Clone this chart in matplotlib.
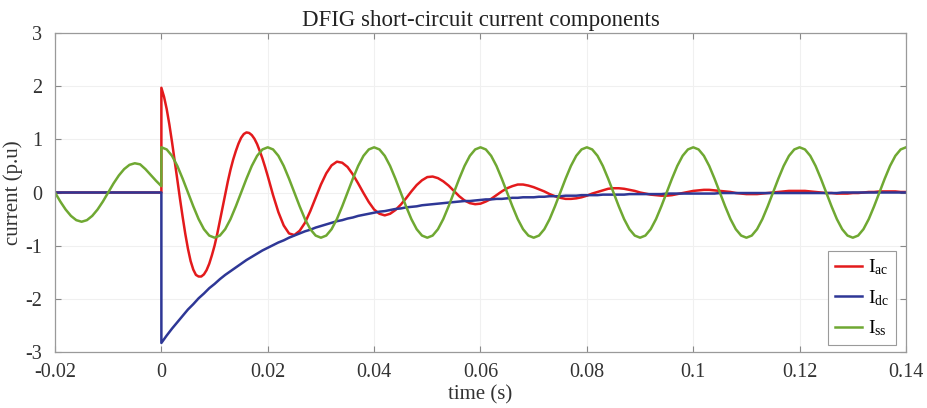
import numpy as np
import matplotlib
matplotlib.use("Agg")
import matplotlib.pyplot as plt

plt.rcParams['font.family'] = ['Liberation Serif', 'DejaVu Serif']
plt.rcParams['mathtext.fontset'] = 'custom'
plt.rcParams['mathtext.rm'] = 'Liberation Serif'
plt.rcParams['mathtext.it'] = 'Liberation Serif:italic'

# ---- data ----
t_pre = np.round(np.arange(-0.020, 0.0005, 0.001), 4)        # pre-fault sample times (s)
t_post = np.round(np.arange(0.000, 0.1405, 0.001), 4)        # post-fault sample times (s)
t_iac_post = np.round(np.concatenate([np.arange(0.0, 0.02025, 0.0005),
                                      np.arange(0.021, 0.1405, 0.001)]), 4)

iac_pre = [0.00] * 21
idc_pre = [0.00] * 21
iss_pre = [0.00, -0.17, -0.32, -0.44, -0.52, -0.55, -0.52, -0.44, -0.32, -0.17,
           0.00, 0.17, 0.32, 0.44, 0.52, 0.55, 0.53, 0.44, 0.33, 0.22, 0.12]

iac_post = [1.97, 1.80, 1.57, 1.28, 0.95, 0.60, 0.24, -0.12, -0.46, -0.78,
            -1.06, -1.29, -1.45, -1.55, -1.58, -1.58, -1.54, -1.46, -1.34, -1.18,
            -1.00, -0.78, -0.53, -0.28, -0.03, 0.21, 0.43, 0.62, 0.78, 0.92,
            1.03, 1.10, 1.13, 1.12, 1.08, 1.01, 0.91, 0.78, 0.64, 0.48,
            0.31,
            -0.05, -0.37, -0.62, -0.77, -0.80, -0.72, -0.57, -0.35, -0.10,
            0.15, 0.36, 0.51, 0.58, 0.56, 0.48, 0.34, 0.17, -0.01, -0.18,
            -0.32, -0.40, -0.43, -0.40, -0.33, -0.23, -0.11, 0.02, 0.14, 0.23,
            0.29, 0.30, 0.27, 0.21, 0.13, 0.03, -0.07, -0.15, -0.20, -0.22,
            -0.21, -0.17, -0.12, -0.05, 0.02, 0.08, 0.12, 0.15, 0.15, 0.13,
            0.10, 0.06, 0.02, -0.03, -0.07, -0.10, -0.12, -0.12, -0.11, -0.09,
            -0.06, -0.02, 0.01, 0.04, 0.07, 0.08, 0.08, 0.07, 0.05, 0.03,
            0.00, -0.02, -0.04, -0.05, -0.06, -0.06, -0.05, -0.03, -0.01, 0.01,
            0.03, 0.04, 0.05, 0.05, 0.04, 0.03, 0.02, 0.01, -0.01, -0.02,
            -0.03, -0.03, -0.03, -0.02, -0.01, 0.00, 0.01, 0.02, 0.03, 0.03,
            0.03, 0.03, 0.02, 0.01, 0.00, -0.01, -0.01, -0.02, -0.02, -0.02,
            -0.01, -0.01, 0.00, 0.01, 0.01, 0.02, 0.02, 0.02, 0.02, 0.01,
            0.01]

idc_post = [-2.83, -2.69, -2.56, -2.44, -2.32, -2.20, -2.10, -1.99, -1.90, -1.80,
            -1.72, -1.63, -1.55, -1.48, -1.41, -1.34, -1.27, -1.21, -1.15, -1.09,
            -1.04, -0.99, -0.94, -0.90, -0.85, -0.81, -0.77, -0.73, -0.70, -0.66,
            -0.63, -0.60, -0.57, -0.54, -0.52, -0.49, -0.47, -0.44, -0.42, -0.40,
            -0.38, -0.36, -0.35, -0.33, -0.31, -0.30, -0.28, -0.27, -0.26, -0.24,
            -0.23, -0.22, -0.21, -0.20, -0.19, -0.18, -0.17, -0.16, -0.16, -0.15,
            -0.14, -0.13, -0.13, -0.12, -0.12, -0.11, -0.10, -0.10, -0.09, -0.09,
            -0.09, -0.08, -0.08, -0.07, -0.07, -0.07, -0.06, -0.06, -0.06, -0.05,
            -0.05, -0.05, -0.05, -0.04, -0.04, -0.04, -0.04, -0.04, -0.03, -0.03,
            -0.03, -0.03, -0.03, -0.03, -0.03, -0.02, -0.02, -0.02, -0.02, -0.02,
            -0.02, -0.02, -0.02, -0.02, -0.02, -0.01, -0.01, -0.01, -0.01, -0.01,
            -0.01, -0.01, -0.01, -0.01, -0.01, -0.01, -0.01, -0.01, -0.01, -0.01,
            -0.01, -0.01, -0.01, -0.01, -0.01, -0.01, -0.01, -0.01, 0.00, 0.00,
            0.00, 0.00, 0.00, 0.00, 0.00, 0.00, 0.00, 0.00, 0.00, 0.00,
            0.00]

iss_post = [0.85, 0.81, 0.69, 0.50, 0.26, 0.00, -0.26, -0.50, -0.69, -0.81,
            -0.85, -0.81, -0.69, -0.50, -0.26, 0.00, 0.26, 0.50, 0.69, 0.81,
            0.85, 0.81, 0.69, 0.50, 0.26, 0.00, -0.26, -0.50, -0.69, -0.81,
            -0.85, -0.81, -0.69, -0.50, -0.26, 0.00, 0.26, 0.50, 0.69, 0.81,
            0.85, 0.81, 0.69, 0.50, 0.26, 0.00, -0.26, -0.50, -0.69, -0.81,
            -0.85, -0.81, -0.69, -0.50, -0.26, 0.00, 0.26, 0.50, 0.69, 0.81,
            0.85, 0.81, 0.69, 0.50, 0.26, 0.00, -0.26, -0.50, -0.69, -0.81,
            -0.85, -0.81, -0.69, -0.50, -0.26, 0.00, 0.26, 0.50, 0.69, 0.81,
            0.85, 0.81, 0.69, 0.50, 0.26, 0.00, -0.26, -0.50, -0.69, -0.81,
            -0.85, -0.81, -0.69, -0.50, -0.26, 0.00, 0.26, 0.50, 0.69, 0.81,
            0.85, 0.81, 0.69, 0.50, 0.26, 0.00, -0.26, -0.50, -0.69, -0.81,
            -0.85, -0.81, -0.69, -0.50, -0.26, 0.00, 0.26, 0.50, 0.69, 0.81,
            0.85, 0.81, 0.69, 0.50, 0.26, 0.00, -0.26, -0.50, -0.69, -0.81,
            -0.85, -0.81, -0.69, -0.50, -0.26, 0.00, 0.26, 0.50, 0.69, 0.81,
            0.85]

labels = [r'I$_{\mathrm{ac}}$', r'I$_{\mathrm{dc}}$', r'I$_{\mathrm{ss}}$']
colors = ['#e31a1c', '#2e3796', '#6fa832']
xticks = [-0.02, 0, 0.02, 0.04, 0.06, 0.08, 0.1, 0.12, 0.14]
xticklabels = ['-0.02', '0', '0.02', '0.04', '0.06', '0.08', '0.1', '0.12', '0.14']
yticks = [-3, -2, -1, 0, 1, 2, 3]
yticklabels = ['-3', '-2', '-1', '0', '1', '2', '3']

series = [(np.concatenate([t_pre, t_iac_post]), np.concatenate([iac_pre, iac_post])),
          (np.concatenate([t_pre, t_post]), np.concatenate([idc_pre, idc_post])),
          (np.concatenate([t_pre, t_post]), np.concatenate([iss_pre, iss_post]))]

fig = plt.figure(figsize=(9.28, 4.08), dpi=100)
ax = fig.add_axes([55 / 928, 1 - 352 / 408, 851 / 928, 319 / 408])

for (tx, y), c, lab in zip(series, colors, labels):
    ax.plot(tx, y, color=c, lw=1.8, label=lab)

ax.set_xlim(-0.02, 0.14)
ax.set_ylim(-3, 3)
ax.set_xticks(xticks)
ax.set_xticklabels(xticklabels)
ax.set_yticks(yticks)
ax.set_yticklabels(yticklabels)
ax.tick_params(direction='in', length=4, width=0.8, top=True, right=True,
               labelsize=14.5, colors='#888888', labelcolor='#333333')
ax.tick_params(axis='x', pad=8)
ax.tick_params(axis='y', pad=9)
ax.grid(True, color='#f0f0f0', lw=0.8)
ax.set_axisbelow(True)
for s in ax.spines.values():
    s.set_color('#9a9a9a')
    s.set_linewidth(0.9)

ax.set_title('DFIG short-circuit current components', fontsize=16.5,
             color='#222222', pad=5)
ax.set_xlabel('time (s)', fontsize=15, color='#333333', labelpad=2)
ax.set_ylabel('current (p.u)', fontsize=15, color='#333333', labelpad=2)

leg = ax.legend(loc='lower right', bbox_to_anchor=(0.988, 0.022), borderaxespad=0,
                fontsize=14, frameon=True, fancybox=False, framealpha=1,
                edgecolor='#9a9a9a', handlelength=1.4, handletextpad=0.3,
                labelspacing=0.55, borderpad=0.35)
leg.get_frame().set_linewidth(0.8)

fig.savefig('out.png', dpi=100)
